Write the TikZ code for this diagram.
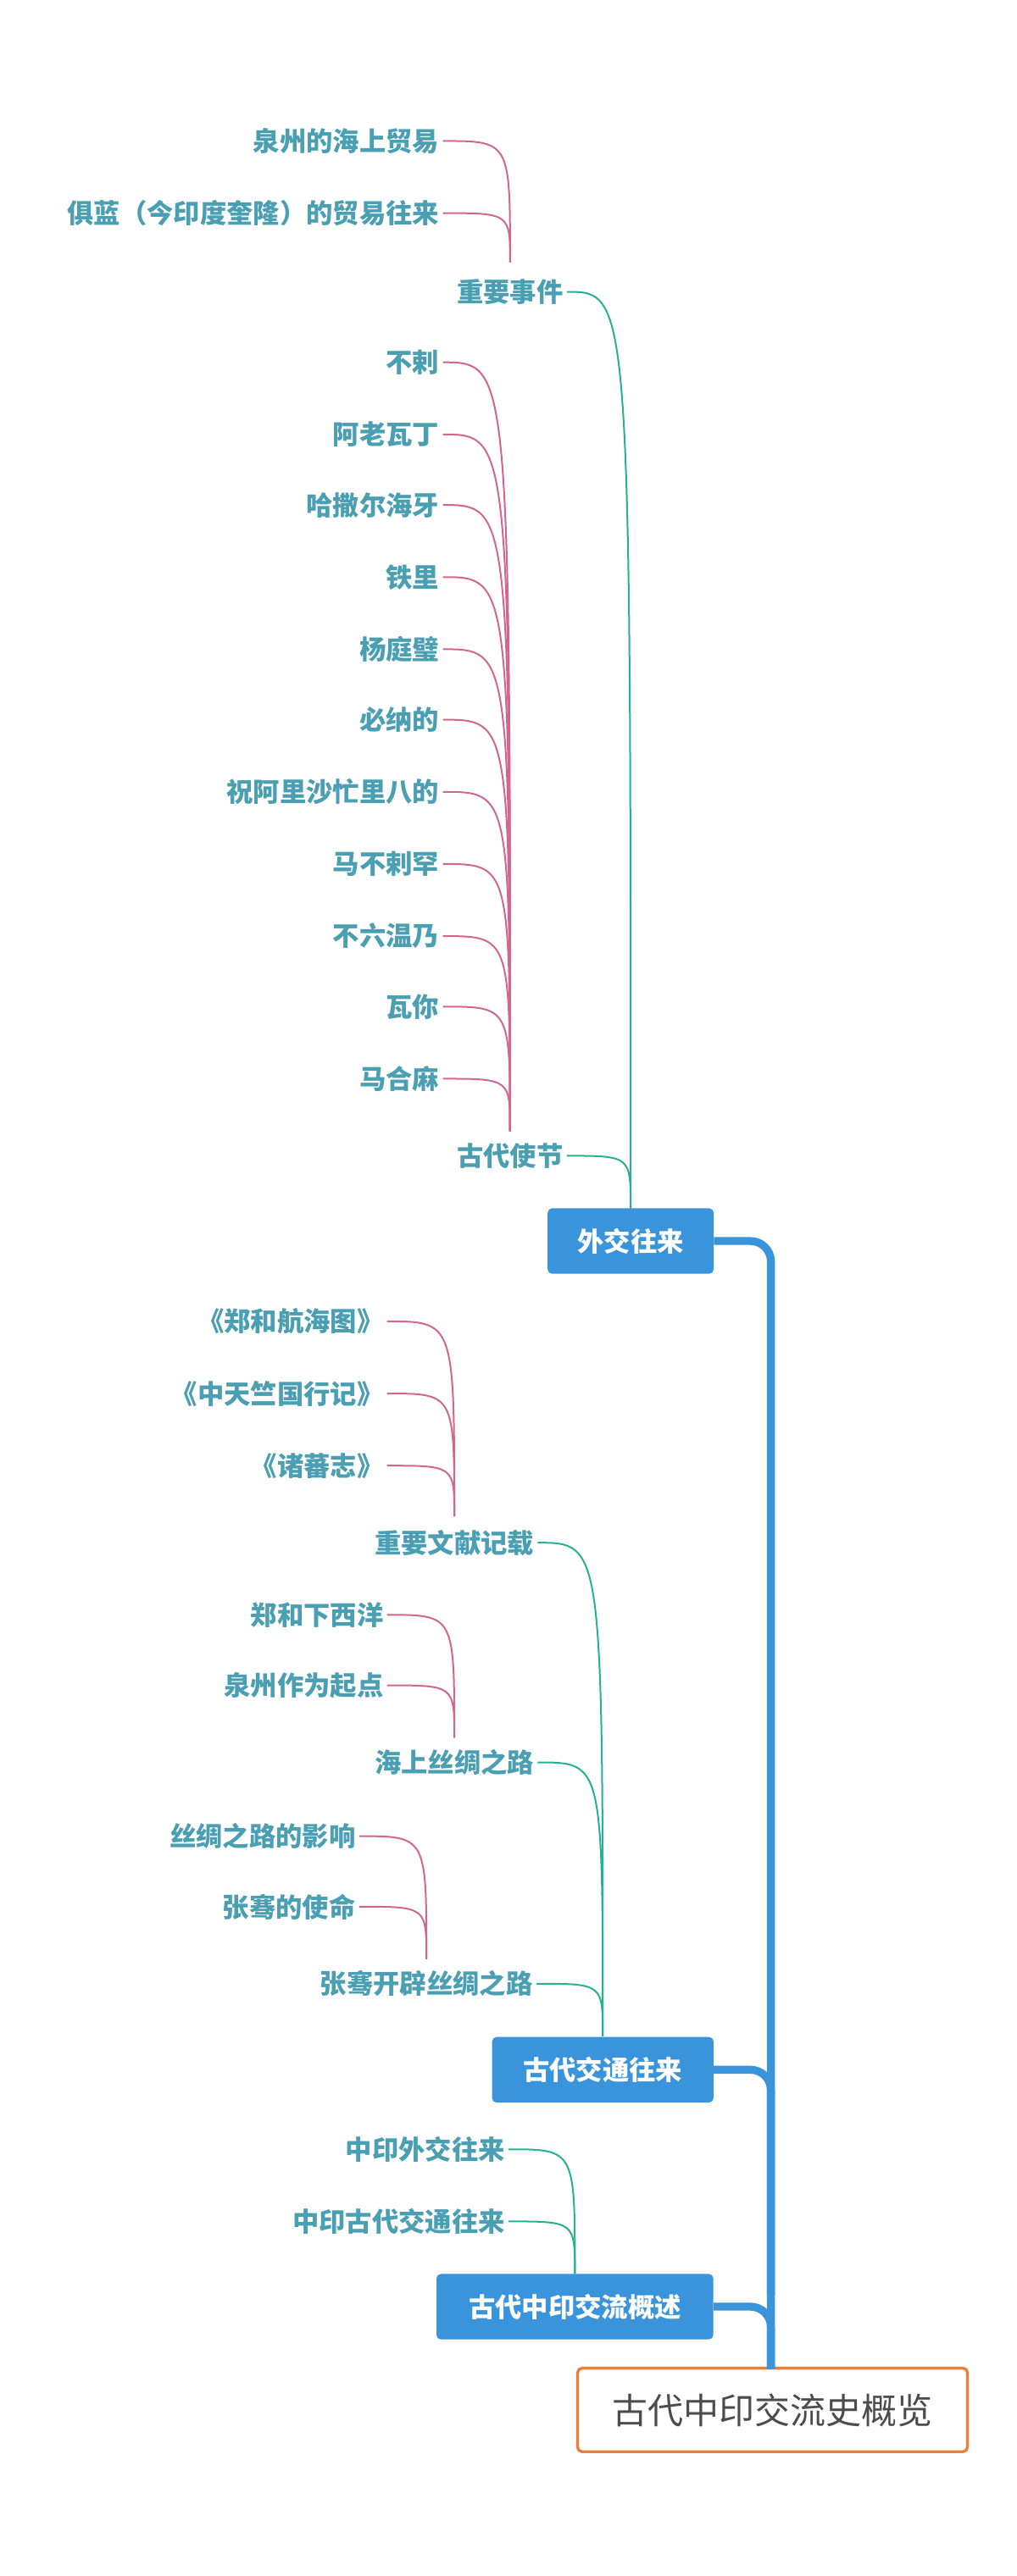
\documentclass[tikz,border=0pt]{standalone}
\usepackage{fontspec}
\setmainfont{Noto Sans CJK SC}
\usetikzlibrary{calc}
\definecolor{txt}{HTML}{4A9FB3}
\definecolor{pinkl}{HTML}{D2668F}
\definecolor{greenl}{HTML}{27B194}
\definecolor{blueb}{HTML}{3A94DB}
\definecolor{orangeb}{HTML}{E8803A}
\tikzset{
  leaf/.style={anchor=east,text=txt,font=\fontsize{23.5}{26}\selectfont\bfseries,inner xsep=3pt,inner ysep=2pt},
  topic/.style={text=txt,font=\fontsize{23.5}{26}\selectfont\bfseries,inner xsep=3pt,inner ysep=2pt},
  mainbox/.style={fill=blueb,text=white,rounded corners=4pt,font=\fontsize{23.5}{26}\selectfont\bfseries,minimum height=58pt,inner sep=0pt},
  pk/.style={draw=pinkl,line width=1.5pt},
  gr/.style={draw=greenl,line width=1.5pt},
  trunk/.style={draw=blueb,line width=7pt,rounded corners=18pt},
}
\newcommand{\conn}[3]{\draw[#1] (#2.east) .. controls (#2.east -| #3) and (#2.east -| #3) .. (#3);}
\begin{document}
\begin{tikzpicture}[x=1.4516pt,y=-1.4516pt]
\useasboundingbox (0,0) rectangle (620,1571.3);
% root
\node[draw=orangeb,line width=2.5pt,rounded corners=4pt,minimum width=345pt,minimum height=74pt,text=black!70,font=\fontsize{31.5}{34}\selectfont] (root) at (471,1470) {古代中印交流史概览};
% main boxes
\node[mainbox,minimum width=147pt] (b1) at (384.5,757) {外交往来};
\node[mainbox,minimum width=196pt] (b2) at (367.5,1262.5) {古代交通往来};
\node[mainbox,minimum width=245pt] (b3) at (350.5,1407) {古代中印交流概述};
\draw[trunk] (b1.east) -- (470,757) -- (470,1445);
\draw[trunk] (b2.east) -- (470,1262.5) -- (470,1400);
\draw[trunk] (b3.east) -- (470,1407) -- (470,1445);
% topics
\node[topic] (t1) at (311,178) {重要事件};
\node[topic] (t2) at (311,705) {古代使节};
\node[topic] (t3) at (277,941) {重要文献记载};
\node[topic] (t4) at (277,1075) {海上丝绸之路};
\node[topic] (t5) at (260,1210) {张骞开辟丝绸之路};
\coordinate (j1) at (384.5,737);
\coordinate (j2) at (367.5,1242);
\coordinate (j3) at (350.5,1387);
\foreach \t/\j in {t1/j1,t2/j1,t3/j2,t4/j2,t5/j2} \conn{gr}{\t}{\j}
% leaves of 重要事件
\coordinate (k1) at (311,160);
\node[leaf] (a1) at (270,86) {泉州的海上贸易};
\node[leaf] (a2) at (270,130) {俱蓝（今印度奎隆）的贸易往来};
\foreach \n in {a1,a2} \conn{pk}{\n}{k1}
% leaves of 古代使节
\coordinate (k2) at (311,690);
\foreach \i/\y/\s in {1/221/不剌,2/265/阿老瓦丁,3/308/哈撒尔海牙,4/352/铁里,5/396/杨庭璧,6/439/必纳的,7/483/祝阿里沙忙里八的,8/527/马不剌罕,9/571/不六温乃,10/614/瓦你,11/658/马合麻}{
  \node[leaf] (c\i) at (270,\y) {\s};
  \conn{pk}{c\i}{k2}
}
% 重要文献记载
\coordinate (k3) at (277,925);
\foreach \i/\y/\s in {1/806/《郑和航海图》,2/850/《中天竺国行记》,3/894/《诸蕃志》}{
  \node[leaf] (d\i) at (236,\y) {\s};
  \conn{pk}{d\i}{k3}
}
% 海上丝绸之路
\coordinate (k4) at (277,1060);
\foreach \i/\y/\s in {1/985/郑和下西洋,2/1028/泉州作为起点}{
  \node[leaf] (e\i) at (236,\y) {\s};
  \conn{pk}{e\i}{k4}
}
% 张骞
\coordinate (k5) at (260,1195);
\foreach \i/\y/\s in {1/1120/丝绸之路的影响,2/1163/张骞的使命}{
  \node[leaf] (f\i) at (219,\y) {\s};
  \conn{pk}{f\i}{k5}
}
% 概述
\foreach \i/\y/\s in {1/1311/中印外交往来,2/1355/中印古代交通往来}{
  \node[leaf] (g\i) at (310,\y) {\s};
  \conn{gr}{g\i}{j3}
}
\end{tikzpicture}
\end{document}
